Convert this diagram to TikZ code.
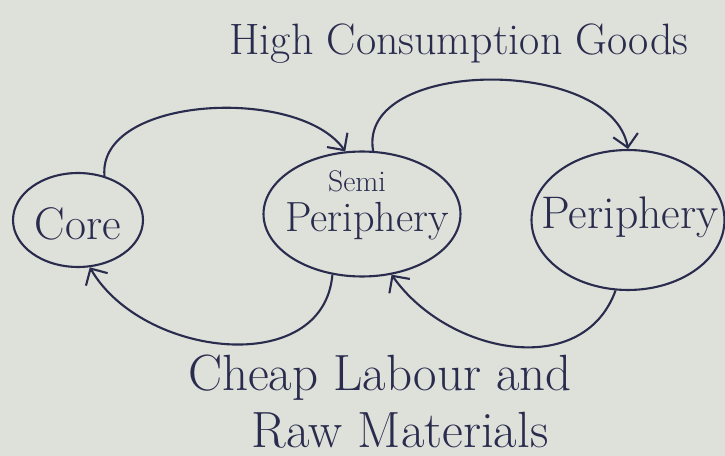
\documentclass[tikz,border=0pt]{standalone}
\usepackage{tikz}
\usetikzlibrary{shapes.geometric,arrows.meta}
\definecolor{ink}{RGB}{42,44,78}
\definecolor{paper}{RGB}{222,224,218}

\begin{document}
\begin{tikzpicture}[x=0.02cm, y=-0.02cm,
    blob/.style={ellipse, draw=ink, line width=1.2pt, inner sep=0pt},
    flow/.style={draw=ink, line width=1.2pt, -{Straight Barb[length=2.5mm,width=5mm]}},
    hand/.style={text=ink, inner sep=0pt, font=\fontsize{26}{30}\selectfont}]
  \fill[paper] (0,0) rectangle (725,456);
  \useasboundingbox (0,0) rectangle (725,456);

  % the three zones
  \node[blob, minimum width=2.6cm, minimum height=1.88cm] (core) at (78,220) {};
  \node[blob, minimum width=3.94cm, minimum height=2.5cm] (semi) at (362,214) {};
  \node[blob, minimum width=3.86cm, minimum height=2.8cm] (peri) at (628,220) {};

  \node[hand] (corelbl) at (78,224) {Core};
  \node[hand, font=\fontsize{17}{20}\selectfont] (semitop) at (357,181) {Semi};
  \node[hand, font=\fontsize{24}{28}\selectfont] (semilbl) at (367,221) {Periphery};
  \node[hand] (perilbl) at (630,217) {Periphery};

  % flows between the zones
  \draw[flow] (core.59) to[out=95, in=125, looseness=0.85] (semi.105);
  \draw[flow] (semi.80) to[out=100, in=100, looseness=0.95] (peri.90);
  \draw[flow] (semi.244) to[out=-95, in=-60, looseness=1.1] (core.284);
  \draw[flow] (peri.260) to[out=-110, in=-55, looseness=1.1] (semi.296);

  % captions
  \node[hand, font=\fontsize{25}{30}\selectfont] (goods) at (459,44) {High Consumption Goods};
  \node[hand, font=\fontsize{29}{34}\selectfont] (labour) at (380,378) {Cheap Labour and};
  \node[hand, font=\fontsize{29}{34}\selectfont] (raw) at (400,430) {Raw Materials};
\end{tikzpicture}
\end{document}
